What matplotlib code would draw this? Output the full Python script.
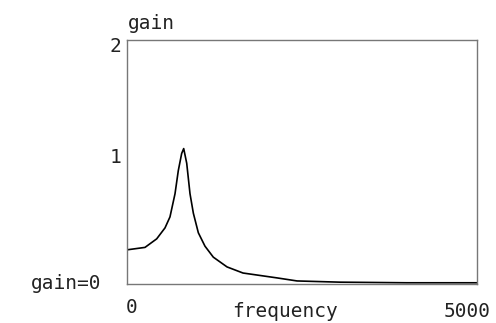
import matplotlib
matplotlib.use("Agg")
import matplotlib.pyplot as plt

# data
frequency = [0, 257, 424, 543, 614, 686, 733, 781, 810, 853, 900, 948, 1019,
             1114, 1233, 1429, 1657, 2143, 2429, 3043, 4000, 5000]
gain = [0.28, 0.30, 0.37, 0.46, 0.55, 0.74, 0.93, 1.07, 1.11, 0.99, 0.74, 0.58,
        0.42, 0.31, 0.22, 0.14, 0.09, 0.05, 0.025, 0.015, 0.01, 0.01]

W, H = 496, 323
fig = plt.figure(figsize=(W / 100, H / 100), dpi=100)
ax = fig.add_axes([127 / W, 1 - 284 / H, 350 / W, 244 / H])
ax.plot(frequency, gain, color="black", lw=1.2)
ax.set_xlim(0, 5000)
ax.set_ylim(0, 2)
ax.set_xticks([])
ax.set_yticks([])
for s in ax.spines.values():
    s.set_color("#777777")
    s.set_linewidth(1.0)

font = dict(family="DejaVu Sans Mono", fontsize=14, color="#222222")

def px(x, y, s, ha="left", va="center"):
    fig.text(x / W, 1 - y / H, s, ha=ha, va=va, **font)

px(128, 29, "gain", va="baseline")
px(121, 46, "2", ha="right")
px(121, 157, "1", ha="right")
px(101, 289, "gain=0", ha="right", va="baseline")
px(126, 313, "0", va="baseline")
px(232, 317, "frequency", va="baseline")
px(491, 317, "5000", ha="right", va="baseline")

fig.savefig("out.png", dpi=100)
